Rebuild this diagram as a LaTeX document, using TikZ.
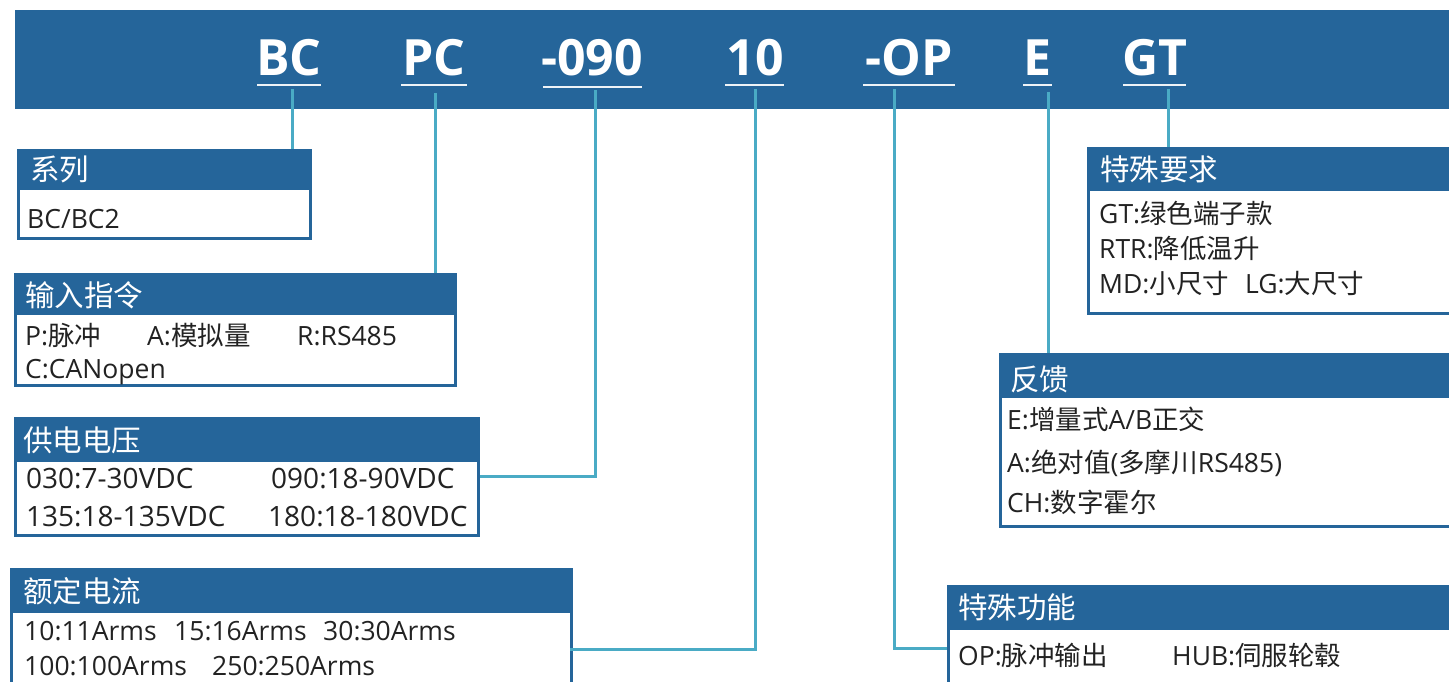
\documentclass[tikz,border=0pt]{standalone}
\usepackage{fontspec}
\setmainfont{Open Sans}
\newfontfamily\cjkfont{Noto Sans CJK SC}
\newfontfamily\codefont{Open Sans}
\newcommand\zh[1]{{\cjkfont #1}}
\definecolor{hblue}{HTML}{25659A}
\definecolor{cline}{HTML}{4AABC5}
\definecolor{btxt}{HTML}{222222}
\begin{document}
\begin{tikzpicture}[x=1pt,y=-1pt,
  banner/.style={fill=hblue, anchor=north west, inner sep=0, minimum width=1450, minimum height=99},
  frame/.style={draw=hblue, line width=2.5pt, fill=white, anchor=north west, inner sep=0},
  hdr/.style={fill=hblue},
  conn/.style={draw=cline, line width=3pt},
  code/.style={text=white, font=\codefont\bfseries\fontsize{50}{60}\selectfont, anchor=base, inner sep=0},
  uline/.style={draw=white!92!hblue, line width=2.5pt},
  htext/.style={text=white, font=\cjkfont\fontsize{29.5}{34}\selectfont, anchor=base west, inner sep=0},
  btext/.style={text=btxt, font=\fontsize{26.5}{30}\selectfont, anchor=base west, inner sep=0}]
\useasboundingbox (0,0) rectangle (1449,682);
\clip (0,0) rectangle (1449,682);
% banner
\node[banner] (ban) at (15,10) {};
\node[code] (kBC) at (289,76) {BC};
\node[code] (kPC) at (434,76) {PC};
\node[code] (k090) at (592,76) {-090};
\node[code] (k10) at (755,76) {10};
\node[code] (kOP) at (909,76) {-OP};
\node[code] (kE) at (1037,76) {E};
\node[code] (kGT) at (1155,76) {GT};
\draw[uline] (257,85) -- (321,85);
\draw[uline] (401,85) -- (467,85);
\draw[uline] (543,87) -- (642,87);
\draw[uline] (725,85) -- (784,85);
\draw[uline] (863,85) -- (955,85);
\draw[uline] (1023,85) -- (1052,85);
\draw[uline] (1123,85) -- (1186,85);
\coordinate (uBC) at (292,89);
\coordinate (uPC) at (435,93);
\coordinate (u090) at (595,90);
\coordinate (u10) at (755,89);
\coordinate (uOP) at (894,89);
\coordinate (uE) at (1048,92);
\coordinate (uGT) at (1168,89);
% boxes
\node[frame, minimum width=292, minimum height=88] (sys) at (17,149) {};
\fill[hdr] (17,149) rectangle (309,190);
\node[htext] (sysH) at (30,181) {系列};
\node[btext] (sys1) at (27,228) {BC/BC2};

\node[frame, minimum width=440, minimum height=111] (inp) at (14,273) {};
\fill[hdr] (14,273) rectangle (454,315);
\node[htext] (inpH) at (25,306) {输入指令};
\node[btext] (inp1) at (25,345) {P:\zh{脉冲}};
\node[btext] (inp2) at (147,345) {A:\zh{模拟量}};
\node[btext] (inp3) at (297,345) {R:RS485};
\node[btext] (inp4) at (25,378) {C:CANopen};

\node[frame, minimum width=463, minimum height=117] (pwr) at (14,417) {};
\fill[hdr] (14,417) rectangle (477,462);
\node[htext] (pwrH) at (23,451) {供电电压};
\node[btext, font=\fontsize{28}{30}\selectfont] (pwr1) at (26,488) {030:7-30VDC};
\node[btext, font=\fontsize{28}{30}\selectfont] (pwr2) at (271,488) {090:18-90VDC};
\node[btext, font=\fontsize{28}{30}\selectfont] (pwr3) at (26,526) {135:18-135VDC};
\node[btext, font=\fontsize{28}{30}\selectfont] (pwr4) at (268,526) {180:18-180VDC};

\node[frame, minimum width=560, minimum height=130] (cur) at (10,568) {};
\fill[hdr] (10,568) rectangle (570,613);
\node[htext] (curH) at (23,602) {额定电流};
\node[btext] (cur1) at (24,640) {10:11Arms};
\node[btext] (cur2) at (174,640) {15:16Arms};
\node[btext] (cur3) at (323,640) {30:30Arms};
\node[btext] (cur4) at (24,675) {100:100Arms};
\node[btext] (cur5) at (212,675) {250:250Arms};

\node[frame, minimum width=380, minimum height=165] (spr) at (1087,147) {};
\fill[hdr] (1087,147) rectangle (1470,191);
\node[htext] (sprH) at (1100,180) {特殊要求};
\node[btext] (spr1) at (1099,223) {GT:\zh{绿色端子款}};
\node[btext] (spr2) at (1099,258) {RTR:\zh{降低温升}};
\node[btext] (spr3) at (1099,293) {MD:\zh{小尺寸}};
\node[btext] (spr4) at (1245,293) {LG:\zh{大尺寸}};

\node[frame, minimum width=470, minimum height=172] (fb) at (999,353) {};
\fill[hdr] (999,353) rectangle (1470,398);
\node[htext] (fbH) at (1010,390) {反馈};
\node[btext] (fb1) at (1007,429) {E:\zh{增量式}A/B\zh{正交}};
\node[btext] (fb2) at (1007,472) {A:\zh{绝对值}(\zh{多摩川}RS485)};
\node[btext] (fb3) at (1007,512) {CH:\zh{数字霍尔}};

\node[frame, minimum width=520, minimum height=130] (fun) at (947,585) {};
\fill[hdr] (947,585) rectangle (1470,630);
\node[htext] (funH) at (958,618) {特殊功能};
\node[btext] (fun1) at (958,665) {OP:\zh{脉冲输出}};
\node[btext] (fun2) at (1172,665) {HUB:\zh{伺服轮毂}};
% connectors
\draw[conn] (uBC) -- (uBC |- sys.north);
\draw[conn] (uPC) -- (uPC |- inp.north);
\draw[conn] (u090) |- (pwr.east);
\coordinate (cur10) at (570,649);
\draw[conn] (u10) |- (cur10);
\coordinate (funOP) at (947,648);
\draw[conn] (uOP) |- (funOP);
\draw[conn] (uE) -- (uE |- fb.north);
\draw[conn] (uGT) -- (uGT |- spr.north);
\end{tikzpicture}
\end{document}
